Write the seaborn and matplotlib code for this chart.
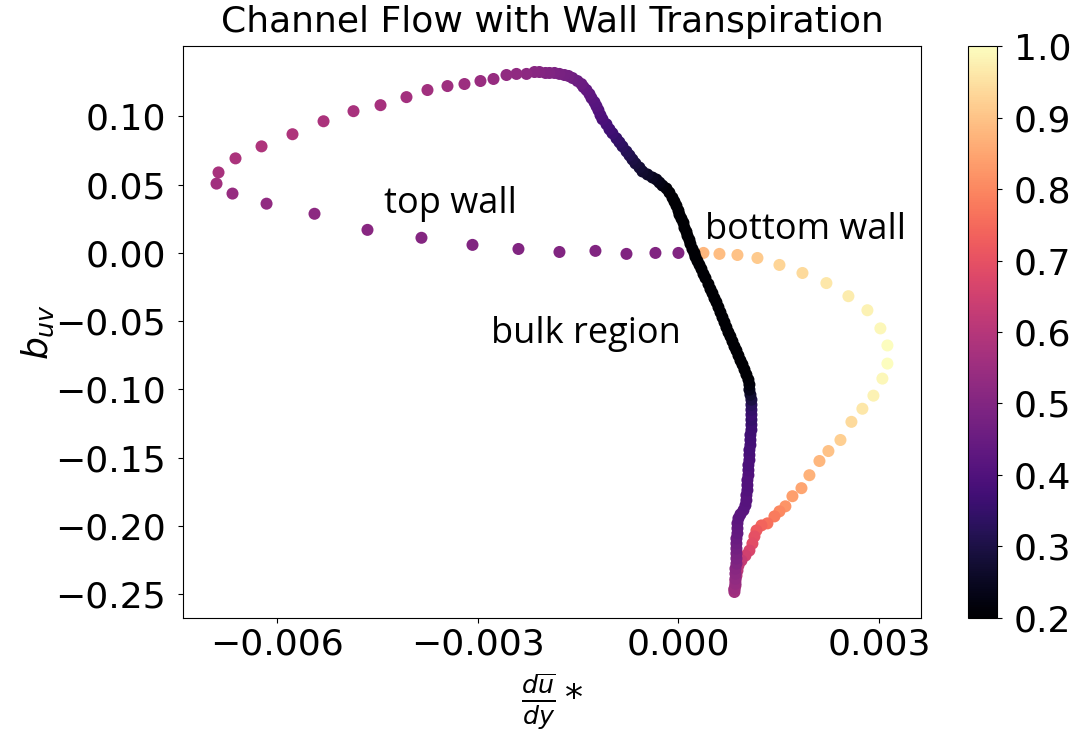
import numpy as np
import pandas as pd
import matplotlib
matplotlib.use("Agg")
import matplotlib.pyplot as plt
import seaborn as sns

# ---------------- data ----------------
# bottom-wall branch (sparse points)
dudy_bottom = [0.000374, 0.000613, 0.000882, 0.001181, 0.001510,
               0.001854, 0.002212, 0.002541, 0.002825, 0.003019,
               0.003124, 0.003124, 0.003049, 0.002915, 0.002750,
               0.002586, 0.002422, 0.002242, 0.002108, 0.001958,
               0.001839, 0.001704, 0.001599, 0.001510, 0.001435,
               0.001330, 0.001241, 0.001166, 0.001136, 0.001106,
               0.001061, 0.001002, 0.000942]
buv_bottom = [0.0000, -0.0007, -0.0015, -0.0037, -0.0088,
              -0.0147, -0.0221, -0.0317, -0.0420, -0.0553,
              -0.0678, -0.0811, -0.0921, -0.1046, -0.1142,
              -0.1238, -0.1371, -0.1452, -0.1525, -0.1629,
              -0.1724, -0.1783, -0.1857, -0.1894, -0.1931,
              -0.1982, -0.1997, -0.2034, -0.2078, -0.2130,
              -0.2181, -0.2218, -0.2255]
c_bottom = [0.88, 0.89, 0.90, 0.91, 0.93,
            0.94, 0.96, 0.97, 0.98, 0.99,
            1.00, 1.00, 0.99, 0.98, 0.96,
            0.94, 0.92, 0.90, 0.88, 0.87,
            0.85, 0.84, 0.82, 0.80, 0.78,
            0.76, 0.74, 0.72, 0.70, 0.69,
            0.67, 0.65, 0.63]

# descent to the lowest point
dudy_tip = [0.000897, 0.000882, 0.000867, 0.000852, 0.000852, 0.000837, 0.000837]
buv_tip = [-0.2292, -0.2329, -0.2366, -0.2402, -0.2439, -0.2468, -0.2485]
c_tip = [0.62, 0.61, 0.60, 0.59, 0.58, 0.57, 0.56]

# near-vertical column rising from the tip
dudy_column = [0.000837, 0.000852, 0.000852, 0.000852, 0.000852,
               0.000867, 0.000867, 0.000867, 0.000867, 0.000867,
               0.000867, 0.000882, 0.000882, 0.000882, 0.000897,
               0.000927, 0.000972, 0.001002, 0.001016, 0.001016,
               0.001031, 0.001031, 0.001031, 0.001046, 0.001046,
               0.001046, 0.001061, 0.001061, 0.001061, 0.001076,
               0.001076, 0.001076, 0.001091, 0.001091, 0.001091,
               0.001091, 0.001091, 0.001091, 0.001091, 0.001076,
               0.001061, 0.001061, 0.001046, 0.001016]
buv_column = [-0.2461, -0.2424, -0.2388, -0.2351, -0.2314,
              -0.2277, -0.2240, -0.2203, -0.2167, -0.2130,
              -0.2093, -0.2056, -0.2019, -0.1982, -0.1945,
              -0.1916, -0.1886, -0.1850, -0.1813, -0.1776,
              -0.1739, -0.1702, -0.1665, -0.1629, -0.1592,
              -0.1555, -0.1518, -0.1481, -0.1444, -0.1408,
              -0.1371, -0.1334, -0.1297, -0.1260, -0.1223,
              -0.1186, -0.1150, -0.1113, -0.1076, -0.1039,
              -0.1002, -0.0965, -0.0929, -0.0892]
c_column = [0.55, 0.54, 0.53, 0.52, 0.51,
            0.50, 0.49, 0.48, 0.47, 0.46,
            0.45, 0.44, 0.435, 0.43, 0.425,
            0.42, 0.42, 0.415, 0.41, 0.41,
            0.405, 0.40, 0.40, 0.40, 0.395,
            0.39, 0.39, 0.385, 0.38, 0.38,
            0.375, 0.37, 0.365, 0.36, 0.35,
            0.36, 0.35, 0.33, 0.30, 0.27,
            0.24, 0.22, 0.21, 0.20]

# bulk region up to the peak
dudy_bulk = [0.000987, 0.000957, 0.000927, 0.000897, 0.000867,
             0.000837, 0.000807, 0.000777, 0.000747, 0.000717,
             0.000688, 0.000658, 0.000628, 0.000598, 0.000568,
             0.000538, 0.000508, 0.000478, 0.000448, 0.000404,
             0.000374, 0.000344, 0.000314, 0.000284, 0.000254,
             0.000239, 0.000209, 0.000179, 0.000164, 0.000135,
             0.000120, 0.000090, 0.000075, 0.000045, 0.000015,
             0.000000, -0.000030, -0.000060, -0.000090, -0.000135,
             -0.000179, -0.000239, -0.000284, -0.000329, -0.000389,
             -0.000463, -0.000538, -0.000583, -0.000643, -0.000688,
             -0.000732, -0.000777, -0.000837, -0.000882, -0.000927,
             -0.000987, -0.001031, -0.001076, -0.001136, -0.001166,
             -0.001196, -0.001226, -0.001256, -0.001300, -0.001330,
             -0.001375, -0.001420, -0.001450, -0.001510, -0.001584,
             -0.001644, -0.001704, -0.001779, -0.001853, -0.001928,
             -0.001988, -0.002078]
buv_bulk = [-0.0855, -0.0818, -0.0788, -0.0752, -0.0715,
            -0.0685, -0.0648, -0.0612, -0.0582, -0.0545,
            -0.0508, -0.0472, -0.0435, -0.0398, -0.0361,
            -0.0332, -0.0295, -0.0265, -0.0228, -0.0184,
            -0.0155, -0.0118, -0.0088, -0.0059, -0.0029,
            0.0000, 0.0029, 0.0066, 0.0096, 0.0125,
            0.0155, 0.0184, 0.0221, 0.0251, 0.0280,
            0.0310, 0.0346, 0.0376, 0.0405, 0.0442,
            0.0472, 0.0494, 0.0516, 0.0538, 0.0553,
            0.0575, 0.0597, 0.0626, 0.0656, 0.0685,
            0.0715, 0.0744, 0.0781, 0.0811, 0.0840,
            0.0877, 0.0906, 0.0943, 0.0980, 0.1010,
            0.1046, 0.1076, 0.1105, 0.1135, 0.1164,
            0.1194, 0.1216, 0.1238, 0.1260, 0.1282,
            0.1297, 0.1304, 0.1312, 0.1319, 0.1319,
            0.1319, 0.1326]
c_bulk = [0.20, 0.20, 0.20, 0.20, 0.20,
          0.20, 0.20, 0.20, 0.20, 0.20,
          0.20, 0.20, 0.20, 0.20, 0.20,
          0.20, 0.20, 0.20, 0.20, 0.20,
          0.20, 0.20, 0.20, 0.20, 0.20,
          0.20, 0.20, 0.20, 0.20, 0.20,
          0.20, 0.20, 0.20, 0.20, 0.20,
          0.20, 0.20, 0.20, 0.20, 0.205,
          0.21, 0.22, 0.23, 0.24, 0.25,
          0.26, 0.27, 0.28, 0.29, 0.30,
          0.31, 0.32, 0.33, 0.34, 0.35,
          0.36, 0.37, 0.38, 0.39, 0.395,
          0.40, 0.41, 0.415, 0.42, 0.43,
          0.435, 0.44, 0.45, 0.455, 0.46,
          0.47, 0.475, 0.48, 0.49, 0.495,
          0.50, 0.505]

# top-wall branch (sparse points)
dudy_top = [-0.002152, -0.002272, -0.002422, -0.002571, -0.002765,
            -0.002960, -0.003199, -0.003453, -0.003752, -0.004066,
            -0.004454, -0.004858, -0.005306, -0.005770, -0.006233,
            -0.006622, -0.006876, -0.006906, -0.006667, -0.006158,
            -0.005441, -0.004649, -0.003842, -0.003079, -0.002392,
            -0.001779, -0.001241, -0.000777, -0.000344, 0.000000]
buv_top = [0.1326, 0.1312, 0.1312, 0.1304, 0.1275,
           0.1260, 0.1238, 0.1223, 0.1194, 0.1142,
           0.1083, 0.1039, 0.0965, 0.0870, 0.0781,
           0.0693, 0.0590, 0.0508, 0.0435, 0.0361,
           0.0287, 0.0169, 0.0111, 0.0059, 0.0029,
           0.0007, 0.0015, -0.0007, 0.0000, 0.0000]
c_top = [0.51, 0.52, 0.525, 0.53, 0.54,
         0.545, 0.55, 0.555, 0.56, 0.565,
         0.57, 0.575, 0.58, 0.585, 0.585,
         0.58, 0.575, 0.56, 0.54, 0.53,
         0.52, 0.51, 0.505, 0.50, 0.50,
         0.50, 0.50, 0.50, 0.50, 0.50]

annotations = ["top wall", "bottom wall", "bulk region"]
annot_x = [-0.004395, 0.000404, -0.002795]
annot_y = [0.0295, 0.0103, -0.0663]

xticks = [-0.006, -0.003, 0.000, 0.003]
yticks = [-0.25, -0.20, -0.15, -0.10, -0.05, 0.00, 0.05, 0.10]
cticks = [0.2, 0.3, 0.4, 0.5, 0.6, 0.7, 0.8, 0.9, 1.0]

# ---------------- table for seaborn ----------------
df = pd.DataFrame({
    "dudy": dudy_bottom + dudy_tip + dudy_column + dudy_bulk + dudy_top,
    "buv": buv_bottom + buv_tip + buv_column + buv_bulk + buv_top,
    "c": c_bottom + c_tip + c_column + c_bulk + c_top,
})

plt.rcParams["font.family"] = ["DejaVu Sans"]
FS = 26

fig = plt.figure(figsize=(10.75, 7.35), dpi=100)
ax = fig.add_axes([0.1702, 0.1592, 0.6865, 0.7782])
cax = fig.add_axes([0.9005, 0.1592, 0.027, 0.7782])

norm = matplotlib.colors.Normalize(vmin=0.2, vmax=1.0)
sns.scatterplot(data=df, x="dudy", y="buv", hue="c", palette="magma",
                hue_norm=(0.2, 1.0), s=75, linewidth=0, legend=False, ax=ax)

ax.set_xticks(xticks)
ax.set_yticks(yticks)
ax.tick_params(labelsize=FS)
ax.tick_params(axis="y", pad=8.5)
ax.set_xlabel(r"$\frac{d\overline{u}}{dy}*$", fontsize=FS, labelpad=7)
ax.set_ylabel(r"$b_{uv}$", fontsize=FS)
ax.yaxis.set_label_coords(-0.172, 0.5)
ax.set_title("Channel Flow with Wall Transpiration", fontsize=FS, pad=10)

for t, x, y in zip(annotations, annot_x, annot_y):
    ax.text(x, y, t, fontsize=26, family=["Open Sans", "DejaVu Sans"],
            ha="left", va="baseline")

sm = matplotlib.cm.ScalarMappable(norm=norm, cmap="magma")
cb = fig.colorbar(sm, cax=cax)
cb.set_ticks(cticks)
cb.ax.tick_params(labelsize=FS, pad=8.5)

fig.savefig("out.png", dpi=100)
